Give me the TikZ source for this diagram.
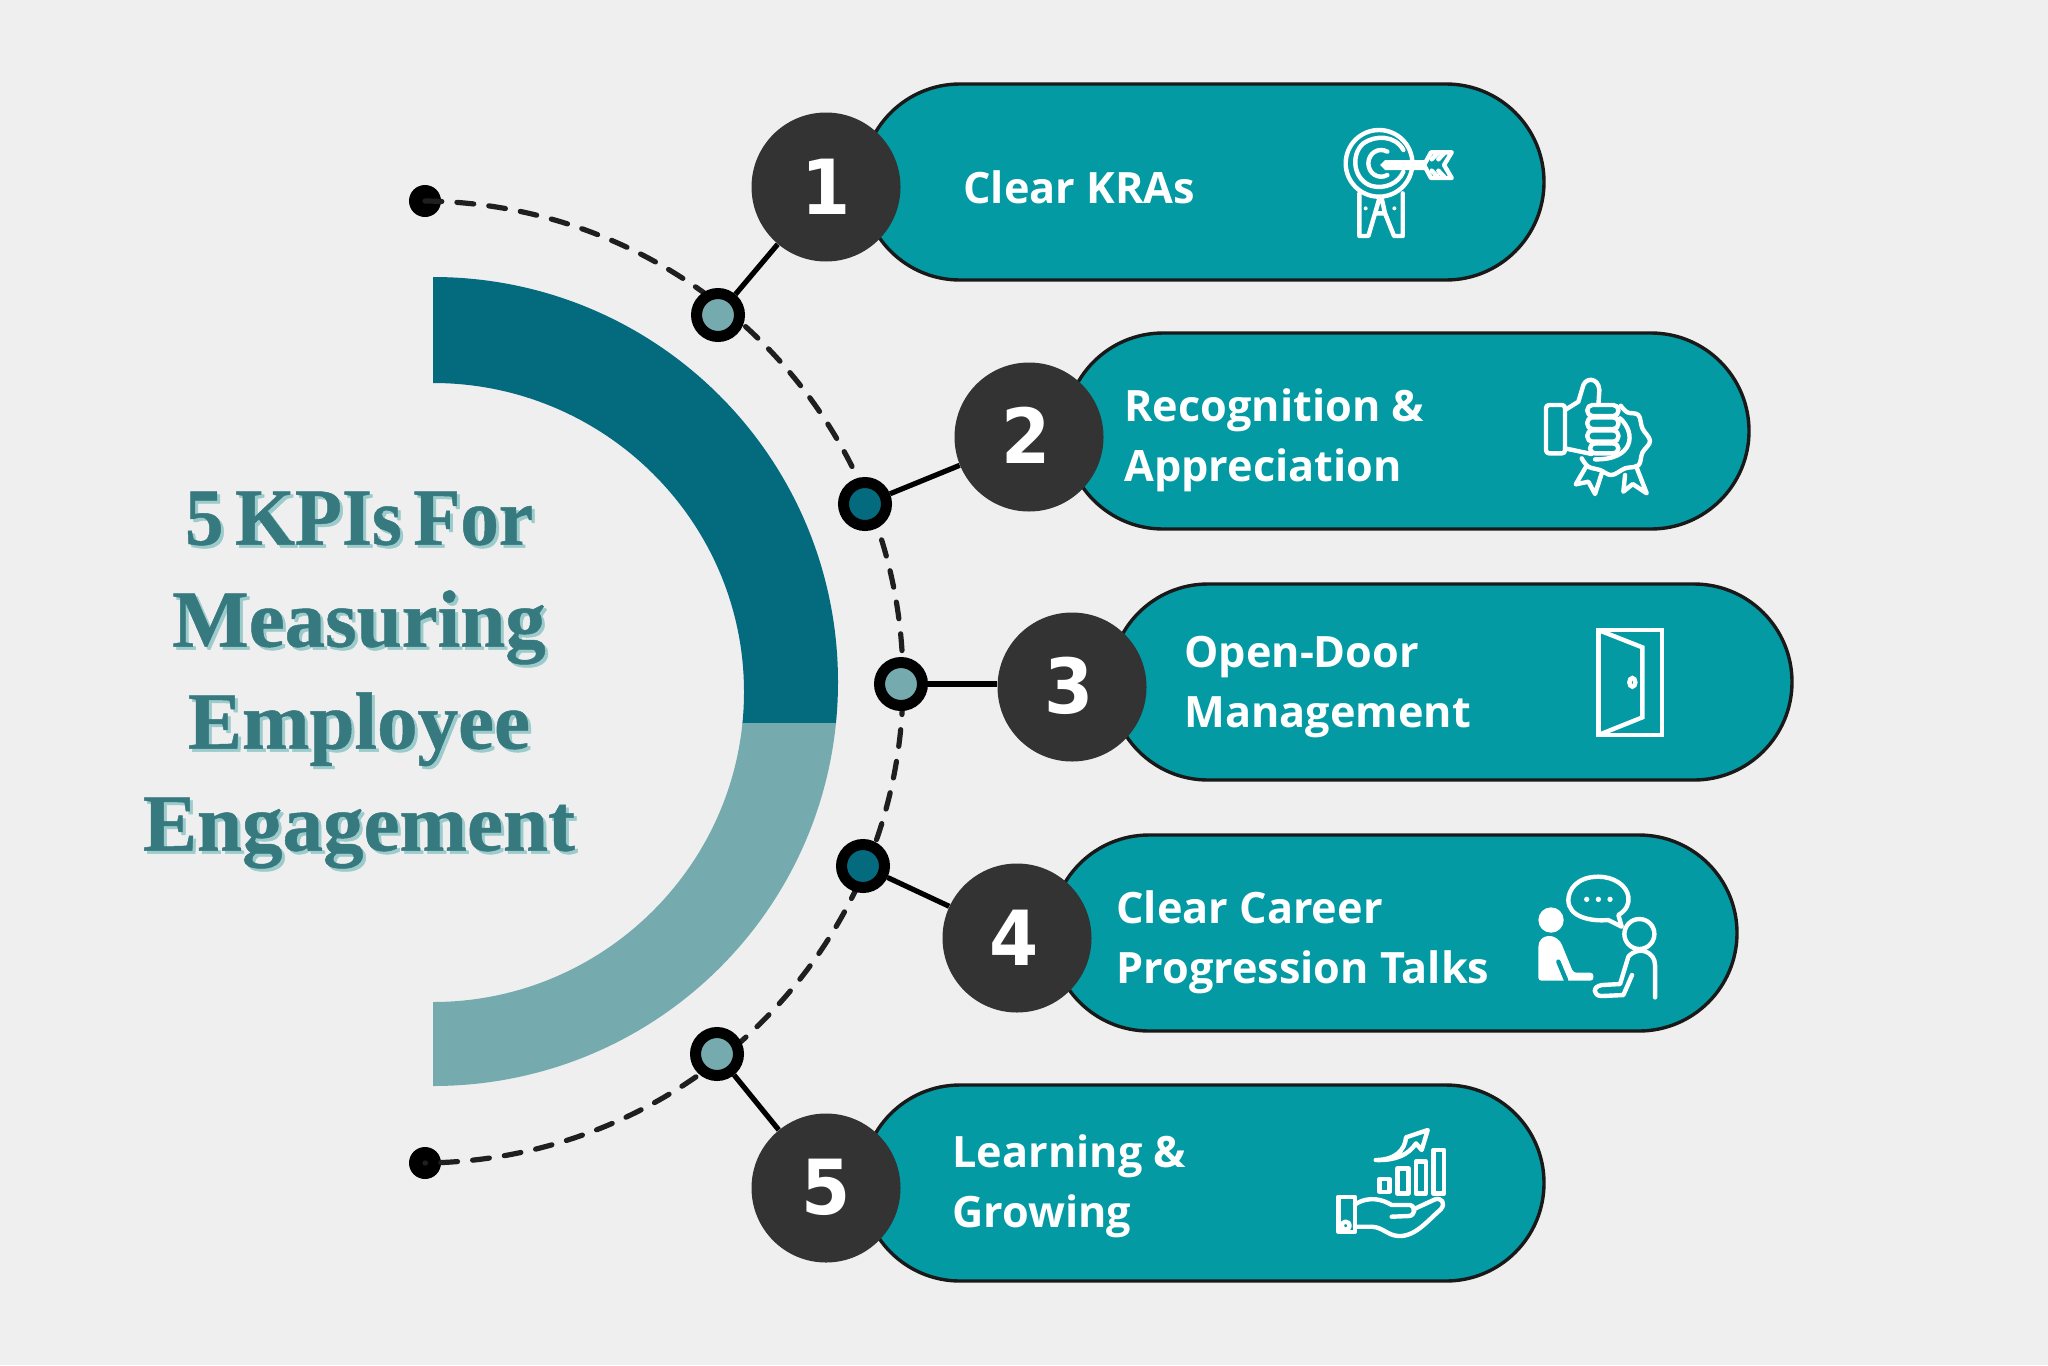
\documentclass[tikz,border=0pt]{standalone}
\usepackage{fontspec}
\setmainfont{Open Sans}
\newfontfamily\numfont[FakeStretch=0.93]{DejaVu Sans}
\newfontfamily\titlefont[WordSpace=0.6,FakeBold=0.6]{Liberation Serif}
\definecolor{bgc}{HTML}{EFEFEF}
\definecolor{pillc}{HTML}{039AA3}
\definecolor{darkc}{HTML}{046B7E}
\definecolor{lightc}{HTML}{75ABAF}
\definecolor{numc}{HTML}{333333}
\definecolor{titlec}{HTML}{36797F}
\definecolor{shadowc}{HTML}{9CCBCB}
\newcommand{\digitat}[3]{\hspace*{#1}\raisebox{#2}{#3}}
\tikzset{
 pill/.style={draw=black!90,line width=1.7pt,fill=pillc,rounded corners=49pt,inner sep=0pt,minimum height=98pt},
 numdisc/.style={circle,fill=numc,inner sep=0pt,minimum size=74.5pt,text=white,font=\numfont\bfseries\fontsize{38}{38}\selectfont},
 hubl/.style={circle,draw=black,line width=5.5pt,fill=lightc,inner sep=0pt,minimum size=21.5pt},
 hubd/.style={hubl,fill=darkc},
 enddot/.style={circle,fill=black,inner sep=0pt,minimum size=16pt},
 link/.style={draw=black,line width=2.6pt},
 lab/.style={anchor=west,text=white,inner sep=0pt,font=\bfseries\fontsize{21.6}{30}\selectfont,align=left},
 ttl/.style={inner sep=0pt,font=\titlefont\bfseries\fontsize{40.5}{51}\selectfont,align=center},
 ico/.style={draw=white,line width=2.2pt,line join=round,line cap=round},
}
\begin{document}
\begin{tikzpicture}[x=0.5pt,y=-0.5pt]
\useasboundingbox (0,0) rectangle (2048,1365);
\fill[bgc] (0,0) rectangle (2048,1365);
% half ring
\begin{scope}
\clip (433,200) rectangle (900,723);
\fill[darkc,even odd rule] (433,277) .. controls (657,277) and (838,458) .. (838,682) .. controls (838,906) and (657,1086) .. (433,1086) -- (433,1002) .. controls (604,1002) and (744,863) .. (744,692) .. controls (744,521) and (604,383) .. (433,383) -- cycle;
\end{scope}
\begin{scope}
\clip (433,723) rectangle (900,1200);
\fill[lightc,even odd rule] (433,277) .. controls (657,277) and (838,458) .. (838,682) .. controls (838,906) and (657,1086) .. (433,1086) -- (433,1002) .. controls (604,1002) and (744,863) .. (744,692) .. controls (744,521) and (604,383) .. (433,383) -- cycle;
\end{scope}
% dashed arc
\node[enddot] (d1) at (425,201) {};
\node[enddot] (d2) at (425,1163) {};
\draw[black!88,line width=2.6pt,line cap=round,dash pattern=on 8.4pt off 7.6pt] (d1.center) .. controls (690,204) and (903,418) .. (903,682) .. controls (903,946) and (690,1160) .. (d2.center);
% pills
\node[pill,minimum width=341pt] (p1) at (1203,182) {};
\node[pill,minimum width=342pt] (p2) at (1407,431) {};
\node[pill,minimum width=341pt] (p3) at (1451,682) {};
\node[pill,minimum width=343pt] (p4) at (1394,933) {};
\node[pill,minimum width=341pt] (p5) at (1203,1183) {};
% number discs
\node[numdisc] (c1) at (826,187) {1};
\node[numdisc] (c2) at (1029,437) {\digitat{-3pt}{1.5pt}{2}};
\node[numdisc] (c3) at (1072,687) {\digitat{-3pt}{1.6pt}{3}};
\node[numdisc] (c4) at (1017,938) {\digitat{-3pt}{0pt}{4}};
\node[numdisc] (c5) at (826,1188) {\digitat{0pt}{1.6pt}{5}};
% hubs
\node[hubl] (s1) at (718,315) {};
\node[hubd] (s2) at (865,504) {};
\node[hubl] (s3) at (901,684) {};
\node[hubd] (s4) at (863,866) {};
\node[hubl] (s5) at (717,1054) {};
\draw[link] (s1) -- (c1); \draw[link] (s2) -- (c2); \draw[link] (s3) -- (c3.west |- s3); \draw[link] (s4) -- (c4); \draw[link] (s5) -- (c5);
% labels
\node[lab] (t1) at (963,187) {Clear KRAs};
\node[lab] (t2) at (1124,440) {Recognition \&\\Appreciation};
\node[lab] (t3) at (1184,687) {Open-Door\\Management};
\node[lab] (t4) at (1116,942) {Clear Career\\Progression Talks};
\node[lab] (t5) at (952,1186) {Learning \&\\Growing};
% title
\node[ttl,text=shadowc] (ts) at (362,683) {\scalebox{0.95}[1]{5 KPIs For}\\Measuring\\Employee\\Engagement};
\node[ttl,text=titlec] (tt) at (359,680) {\scalebox{0.95}[1]{5 KPIs For}\\Measuring\\Employee\\Engagement};
% icon 1: target
\begin{scope}[shift={(1300,100)},x=0.1667pt,y=-0.1667pt,ico]
\draw (237,190) circle[radius=100];
\draw (310,150) .. controls (285,105) and (225,105) .. (190,130) .. controls (150,165) and (160,240) .. (215,258) .. controls (255,268) and (295,250) .. (310,215);
\draw (262,155) .. controls (235,140) and (205,160) .. (205,190) .. controls (205,220) and (235,240) .. (262,225);
\fill[white] (240,195) -- (255,180) -- (375,180) -- (375,210) -- (255,210) -- cycle;
\draw (372,195) -- (393,157) -- (455,157) -- (432,195) -- (455,234) -- (393,234) -- cycle;
\draw (395,178) -- (412,160) (415,178) -- (432,160) (395,212) -- (412,230) (415,212) -- (432,230);
\draw (178,280) -- (178,408) -- (205,408) -- (225,340) -- (255,340) -- (282,408) -- (308,408) -- (308,280);
\draw (238,295) -- (225,340) (245,295) -- (255,340);
\fill[white] (197,325) circle[radius=6] (283,325) circle[radius=6];
\end{scope}
% icon 2: thumb and badge
\begin{scope}[shift={(1510,360)},x=0.1667pt,y=-0.1667pt,ico]
\draw[rounded corners=1.5pt] (108,135) rectangle (165,280);
\draw (165,150) -- (205,125) -- (217,85) .. controls (222,50) and (265,50) .. (268,90) -- (265,135);
\draw (165,265) -- (245,282);
\draw[rounded corners=2.5pt] (232,135) rectangle (325,168);
\draw[rounded corners=2.5pt] (232,172) rectangle (325,207);
\draw[rounded corners=2.5pt] (232,211) rectangle (325,245);
\draw[rounded corners=2.5pt] (240,250) rectangle (325,280);
\draw (330,175) .. controls (380,220) and (370,300) .. (255,298);
\draw plot[smooth,tension=.6] coordinates {(332,137) (352,157) (385,165) (397,205) (420,243) (397,278) (385,316) (345,325) (305,345) (270,330) (235,320) (215,295)};
\draw (228,320) -- (197,373) -- (235,365) -- (255,402) -- (275,340);
\draw (345,345) -- (340,395) -- (368,372) -- (410,400) -- (378,318);
\end{scope}
% icon 3: door
\begin{scope}[shift={(1570,610)},x=0.1667pt,y=-0.1667pt,ico,line cap=butt,line join=miter]
\draw (85,60) rectangle (275,375);
\draw (85,60) -- (217,112) -- (217,322) -- (85,375);
\draw (187,217) ellipse[x radius=9,y radius=13];
\end{scope}
% icon 4: talk
\begin{scope}[shift={(1510,860)},x=0.1667pt,y=-0.1667pt,ico]
\fill[white] (123,180) circle[radius=38];
\fill[white,rounded corners=1.5pt] (85,362) -- (85,270) .. controls (85,220) and (140,215) .. (160,265) -- (190,338) -- (250,338) -- (250,362) -- cycle;
\draw[pillc] (145,305) -- (168,360);
\draw (265,50) .. controls (200,50) and (175,90) .. (175,120) .. controls (175,170) and (240,185) .. (295,180) -- (335,200) -- (325,165) .. controls (350,150) and (358,130) .. (355,110) .. controls (350,75) and (310,50) .. (265,50) -- cycle;
\fill[white] (230,118) circle[radius=8] (265,118) circle[radius=8] (300,118) circle[radius=8];
\draw (388,222) circle[radius=45];
\draw (435,412) -- (435,315) .. controls (435,275) and (385,255) .. (355,290) -- (330,372) -- (275,375) .. controls (245,380) and (250,408) .. (275,408) -- (340,405) -- (366,345);
\end{scope}
% icon 5: growth
\begin{scope}[shift={(1320,1110)},x=0.1667pt,y=-0.1667pt,ico]
\draw (178,207) rectangle (208,245);
\draw (232,175) rectangle (265,250);
\draw (287,155) rectangle (317,250);
\draw (340,120) rectangle (372,250);
\draw (167,150) .. controls (225,150) and (255,120) .. (258,82) -- (323,60) -- (305,120) -- (288,100) .. controls (265,135) and (225,152) .. (167,150) -- cycle;
\draw (55,260) rectangle (105,365);
\draw (77,347) circle[radius=12];
\draw (105,283) .. controls (150,255) and (190,270) .. (215,285) -- (270,285) .. controls (290,290) and (285,318) .. (265,318) -- (215,320);
\draw (280,298) -- (345,268) .. controls (365,262) and (378,280) .. (362,298) .. controls (320,335) and (285,380) .. (235,378) .. controls (200,375) and (190,352) .. (155,350) -- (105,350);
\end{scope}
\end{tikzpicture}
\end{document}
